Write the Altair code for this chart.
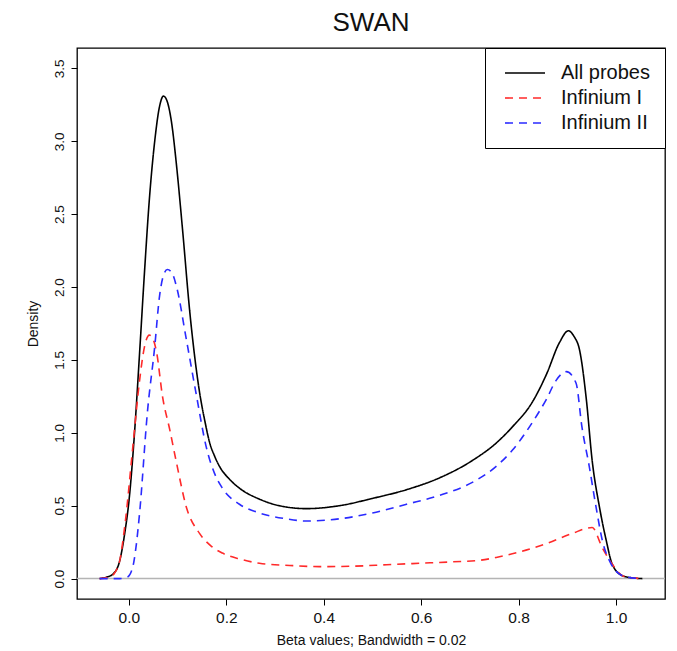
import altair as alt
import pandas as pd

# ---- data ----
series_names = ["All probes", "Infinium I", "Infinium II"]
series_colors = ["#000000", "#ff2a2a", "#2a2aff"]

all_x = [-0.060, -0.046, -0.033, -0.019, -0.009, 0.001, 0.012, 0.022, 0.032, 0.042,
         0.053, 0.063, 0.071, 0.079, 0.088, 0.097, 0.110, 0.125, 0.145, 0.156,
         0.166, 0.176, 0.186, 0.207, 0.227, 0.268, 0.309, 0.364, 0.432, 0.500,
         0.570, 0.637, 0.705, 0.754, 0.787, 0.828, 0.857, 0.884, 0.902, 0.914,
         0.925, 0.939, 0.951, 0.966, 0.980, 0.992, 1.013, 1.033, 1.054]
all_y = [0.0, 0.01, 0.03, 0.12, 0.30, 0.56, 1.02, 1.55, 2.10, 2.60,
         3.00, 3.24, 3.31, 3.27, 3.12, 2.86, 2.40, 1.83, 1.28, 1.08,
         0.93, 0.84, 0.77, 0.68, 0.62, 0.545, 0.50, 0.48, 0.50, 0.55,
         0.61, 0.69, 0.81, 0.93, 1.04, 1.21, 1.40, 1.62, 1.70, 1.66,
         1.57, 1.23, 0.81, 0.49, 0.26, 0.10, 0.02, 0.005, 0.0]

inf1_x = [-0.060, -0.040, -0.029, -0.019, -0.007, 0.008, 0.022, 0.032, 0.042, 0.050,
          0.057, 0.069, 0.084, 0.098, 0.118, 0.145, 0.170, 0.192, 0.227, 0.268,
          0.330, 0.391, 0.459, 0.529, 0.596, 0.664, 0.719, 0.754, 0.787, 0.857,
          0.910, 0.951, 0.972, 0.992, 1.013, 1.033, 1.058]
inf1_y = [0.0, 0.01, 0.04, 0.12, 0.40, 0.90, 1.36, 1.59, 1.67, 1.64,
          1.55, 1.25, 1.02, 0.79, 0.49, 0.31, 0.22, 0.175, 0.135, 0.105,
          0.09, 0.082, 0.085, 0.095, 0.105, 0.115, 0.125, 0.145, 0.17, 0.24,
          0.31, 0.35, 0.21, 0.10, 0.02, 0.005, 0.0]

inf2_x = [-0.060, -0.040, -0.019, -0.003, 0.008, 0.014, 0.022, 0.038, 0.053, 0.063,
          0.071, 0.079, 0.088, 0.098, 0.118, 0.139, 0.159, 0.176, 0.192, 0.227,
          0.268, 0.323, 0.364, 0.432, 0.500, 0.570, 0.637, 0.705, 0.754, 0.787,
          0.828, 0.857, 0.877, 0.898, 0.918, 0.930, 0.945, 0.959, 0.972, 0.990,
          1.013, 1.033, 1.048]
inf2_y = [0.0, 0.0, 0.0, 0.01, 0.08, 0.20, 0.45, 1.14, 1.59, 1.94,
          2.08, 2.12, 2.10, 2.00, 1.64, 1.25, 0.90, 0.72, 0.62, 0.51,
          0.45, 0.41, 0.395, 0.41, 0.45, 0.51, 0.57, 0.66, 0.77, 0.88,
          1.07, 1.23, 1.36, 1.42, 1.34, 1.04, 0.77, 0.49, 0.26, 0.10,
          0.02, 0.005, 0.0]

x_ticks = [0.0, 0.2, 0.4, 0.6, 0.8, 1.0]
y_ticks = [0.0, 0.5, 1.0, 1.5, 2.0, 2.5, 3.0, 3.5]

rows = []
for name, xs, ys in zip(series_names, [all_x, inf1_x, inf2_x], [all_y, inf1_y, inf2_y]):
    for xv, yv in zip(xs, ys):
        rows.append({"series": name, "beta": xv, "density": yv})
df = pd.DataFrame(rows)
zero_df = pd.DataFrame({"density": [0.0]})

FONT = "Liberation Sans"
W, H = 588, 551

x_scale = alt.Scale(domain=[-0.1065, 1.1005], nice=False, zero=False)
y_scale = alt.Scale(domain=[-0.14, 3.64], nice=False, zero=False)

x_axis = alt.Axis(values=x_ticks, format=".1f", grid=False, domain=False,
                  tickColor="black", tickSize=6, tickWidth=1,
                  labelFont=FONT, labelFontSize=15.5, labelColor="#111111",
                  labelPadding=5, labelBaseline="top",
                  title="Beta values; Bandwidth = 0.02", titleFont=FONT,
                  titleFontSize=14, titleFontWeight="normal", titleColor="#111111",
                  titleX=W / 2, titleY=41, titleAlign="center", titleBaseline="middle")
y_axis = alt.Axis(values=y_ticks, format=".1f", grid=False, domain=False,
                  tickColor="black", tickSize=6, tickWidth=1,
                  labelFont=FONT, labelFontSize=13.5, labelColor="#111111",
                  labelAngle=-90, labelAlign="center", labelBaseline="alphabetic",
                  labelPadding=8,
                  title="Density", titleFont=FONT, titleFontSize=14,
                  titleFontWeight="normal", titleColor="#111111",
                  titleX=-44, titleY=H / 2, titleAlign="center",
                  titleBaseline="middle", titleAngle=-90)

legend = alt.Legend(title=None, orient="top-right", offset=0, padding=15,
                    strokeColor="black", fillColor="white", cornerRadius=0,
                    labelFont=FONT, labelFontSize=20, labelColor="#111111",
                    symbolType="M-1,0H7", symbolSize=100, symbolStrokeWidth=1.6,
                    labelOffset=41, rowPadding=5)

zero_rule = alt.Chart(zero_df).mark_rule(color="#b4b4b4", strokeWidth=1.5).encode(
    y=alt.Y("density:Q", scale=y_scale, axis=y_axis)
)

lines = alt.Chart(df).mark_line(strokeWidth=1.6, interpolate="monotone").encode(
    x=alt.X("beta:Q", scale=x_scale, axis=x_axis),
    y=alt.Y("density:Q", scale=y_scale, axis=y_axis),
    color=alt.Color("series:N", scale=alt.Scale(domain=series_names, range=series_colors),
                    legend=legend),
    strokeDash=alt.StrokeDash("series:N",
                              scale=alt.Scale(domain=series_names,
                                              range=[[1, 0], [8, 6], [8, 6]]),
                              legend=legend),
    detail="series:N",
)

chart = alt.layer(zero_rule, lines).properties(
    width=W, height=H,
    padding={"left": 69, "top": 40, "right": 3, "bottom": 48},
    autosize=alt.AutoSizeParams(type="none"),
    title=alt.TitleParams("SWAN", font=FONT, fontSize=26, fontWeight="normal",
                          color="#111111", anchor="middle", frame="group",
                          offset=12),
).configure_view(stroke="black", strokeWidth=1.3)

chart.save("out.html", embed_options={"renderer": "svg", "actions": False})
